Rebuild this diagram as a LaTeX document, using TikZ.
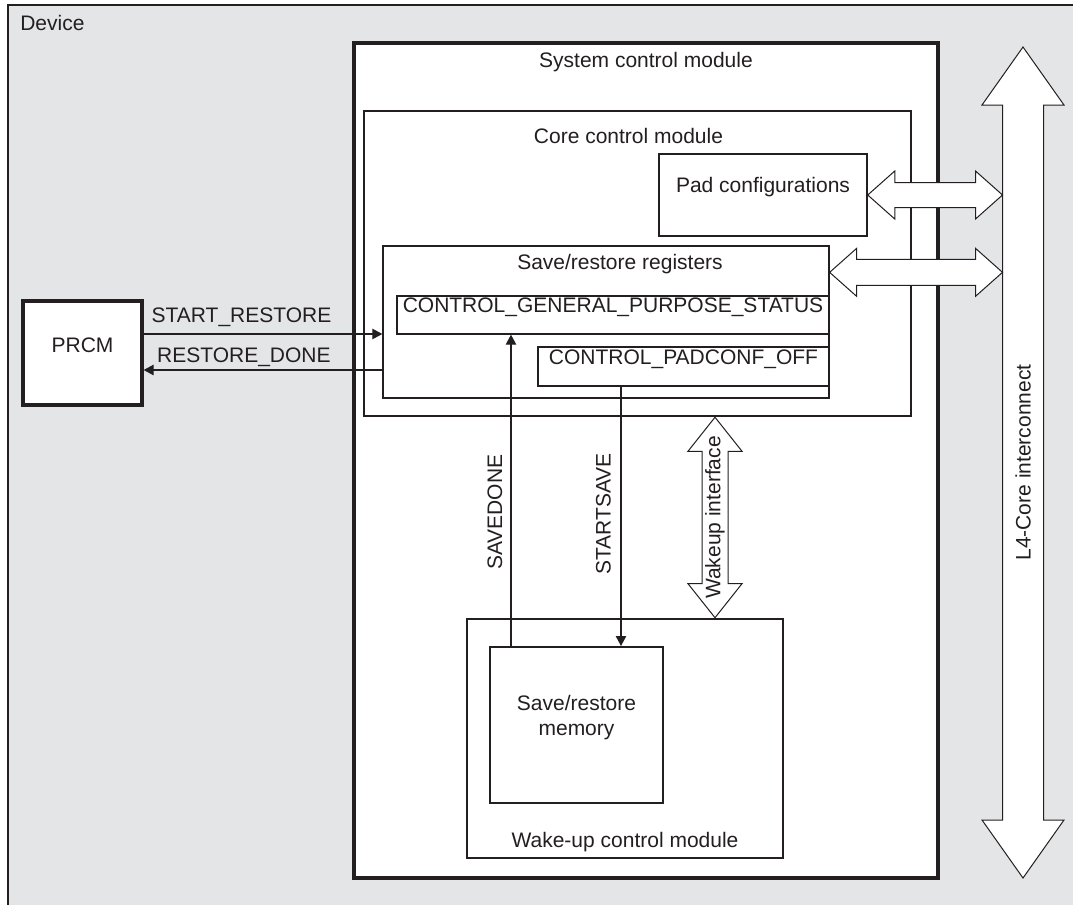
\documentclass[tikz,border=0pt]{standalone}
\usepackage{fontspec}
\setmainfont{Liberation Sans}
\usetikzlibrary{arrows.meta, positioning, calc, fit}
\definecolor{devgray}{RGB}{228,229,231}
\definecolor{inkgray}{RGB}{35,31,32}

% block arrow with a head at both ends: tip, tip, half shaft, half head, head length
\newcommand{\busarrow}[5]{%
  \path (#1) coordinate (ba) (#2) coordinate (bb);
  \path ($(ba)!#5!(bb)$) coordinate (ba1) ($(bb)!#5!(ba)$) coordinate (bb1);
  \draw[busline] (ba) -- ($(ba1)!#4!90:(bb)$) -- ($(ba1)!#3!90:(bb)$)
    -- ($(bb1)!#3!-90:(ba)$) -- ($(bb1)!#4!-90:(ba)$) -- (bb)
    -- ($(bb1)!#4!90:(ba)$) -- ($(bb1)!#3!90:(ba)$)
    -- ($(ba1)!#3!-90:(bb)$) -- ($(ba1)!#4!-90:(bb)$) -- cycle;
}

\begin{document}
\begin{tikzpicture}[
    x=0.5pt, y=-0.5pt,
    color=inkgray,
    font=\fontsize{10.5}{12.5}\selectfont,
    >={Triangle[length=5pt, width=5.2pt]},
    modbox/.style={draw=inkgray, fill=white, inner sep=0pt, align=center},
    blockbox/.style={draw=inkgray, fill=white, line width=0.65pt, inner sep=0pt},
    title/.style={inner sep=0pt},
    sig/.style={->, line width=0.6pt},
    sigtext/.style={inner sep=0pt},
    vtext/.style={rotate=90, anchor=south, inner sep=4pt},
    busline/.style={draw=inkgray, fill=white, line width=0.5pt, line join=miter},
]
    \useasboundingbox (0,0) rectangle (1073,905);
    \clip (0,0) rectangle (1073,905);
    \fill[white] (0,0) rectangle (1073,905);

    % device
    \node[draw=inkgray, fill=devgray, line width=1.1pt, inner sep=0pt, fit={(8,5) (1100,930)}] (dev) {};
    \node[title, anchor=base west] at ($(dev.north west)+(13,27)$) {Device};

    % modules
    \node[modbox, line width=1.7pt, fit={(354,43) (938,878)}] (sys) {};
    \node[title, below=5.5pt of sys.north] {System control module};
    \node[modbox, line width=1.25pt, fit={(364,111) (911,416)}] (core) {};
    \node[title, below=9pt of core.north, xshift=-4.5pt] {Core control module};
    \node[blockbox, line width=0.75pt, fit={(659,154) (867,236)}] (pad) {Pad configurations};
    \node[blockbox, fit={(383,246) (829,398)}] (regs) {};
    \node[title, below=4.5pt of regs.north, xshift=7pt] {Save/restore registers};
    \node[blockbox, fit={(397,296) (829,334)}] (cgps) {CONTROL\_GENERAL\_PURPOSE\_STATUS};
    \node[blockbox, fit={(538,347) (829,386)}] (cpo) {CONTROL\_PADCONF\_OFF};
    \node[modbox, line width=1.6pt, fit={(23,301) (142,405)}] (prcm) {PRCM};
    \node[modbox, line width=1.3pt, fit={(467,619) (783,858)}] (wake) {};
    \node[title, above=3.5pt of wake.south] {Wake-up control module};
    \node[modbox, line width=1pt, fit={(490,647) (663,803)}] (mem) {Save/restore\\memory};

    % restore handshake
    \coordinate (sr) at ($(prcm.east)+(0,-19)$);
    \coordinate (rd) at ($(prcm.east)+(0,17)$);
    \draw[sig] (sr) -- (sr -| regs.west) node[sigtext, above=3.6pt, pos=0.41] {START\_RESTORE};
    \draw[sig] (rd -| regs.west) -- (rd) node[sigtext, above=1.6pt, pos=0.58] {RESTORE\_DONE};

    % save handshake
    \coordinate (sdx) at (511,0);
    \coordinate (ssx) at (621,0);
    \draw[sig] (mem.north -| sdx) -- (cgps.south -| sdx) node[vtext, pos=0.43] {SAVEDONE};
    \draw[sig] (cpo.south -| ssx) -- (mem.north -| ssx) node[vtext, inner sep=4.8pt, pos=0.49] {STARTSAVE};

    % interconnects
    \coordinate (l4top) at (1023,47);
    \coordinate (l4bot) at (1023,878);
    \busarrow{l4top}{l4bot}{10.25pt}{20.5pt}{29pt}
    \node[rotate=90] at ($(l4top)!0.5!(l4bot)$) {L4-Core interconnect};

    \coordinate (l4w) at ($(l4top)+(-20.5,0)$);
    \coordinate (padtip) at (pad.east -| l4w);
    \busarrow{pad.east}{padtip}{6.25pt}{12pt}{13.5pt}
    \coordinate (regsa) at ($(regs.north east)+(0,27)$);
    \coordinate (regsb) at (regsa -| l4w);
    \busarrow{regsa}{regsb}{6.5pt}{12pt}{13.5pt}

    \coordinate (wkx) at (715,0);
    \busarrow{core.south -| wkx}{wake.north -| wkx}{6.5pt}{13.5pt}{17pt}
    \node[rotate=90] at ($(core.south -| wkx)!0.5!(wake.north -| wkx)$) {Wakeup interface};
\end{tikzpicture}
\end{document}
